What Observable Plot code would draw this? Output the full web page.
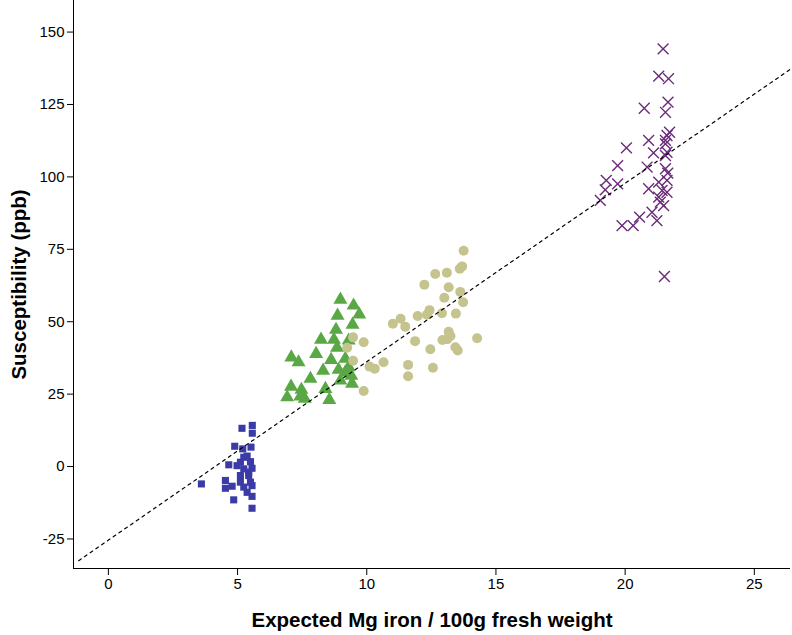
<!DOCTYPE html>
<html>
<head>
<meta charset="utf-8">
<script src="https://cdn.jsdelivr.net/npm/d3@7"></script>
<script src="https://cdn.jsdelivr.net/npm/@observablehq/plot@0.6"></script>
<style>
  html, body { margin: 0; padding: 0; background: #fff; }
  #chart svg { display: block; }
  #chart [aria-label="x-axis label"] text, #chart [aria-label="y-axis label"] text,
  #chart g[aria-label="x-axis label"], #chart g[aria-label="y-axis label"] { font-weight: bold; font-size: 20.5px; }
</style>
</head>
<body>
<div id="chart"></div>
<script>
// Blue squares
const blueX = [5.17, 5.57, 5.57, 4.89, 5.20, 5.52, 4.66, 5.11, 5.50, 5.24, 5.56, 5.11, 5.43, 4.53, 4.53, 4.79, 5.11, 5.50, 5.24, 5.56, 5.37, 5.56, 4.85, 5.56, 3.60, 4.98, 5.37, 5.24, 5.43];
const blueY = [13.2, 14.2, 11.5, 7.0, 6.1, 6.7, 0.6, 1.5, 1.7, -0.8, -0.6, -3.1, -3.1, -4.8, -7.5, -6.8, -5.4, -5.4, -7.1, -6.6, -8.9, -10.3, -11.5, -14.4, -6.0, 0.3, 3.6, 3.2, -1.9];
// Green triangles
const greenX = [8.98, 9.49, 9.71, 8.87, 9.45, 8.81, 8.23, 8.73, 9.30, 8.85, 7.08, 7.36, 8.04, 8.62, 9.17, 9.30, 8.31, 8.91, 7.82, 9.40, 9.43, 7.07, 7.47, 6.92, 7.43, 7.60, 8.40, 8.55, 9.17, 8.98];
const greenY = [57.6, 55.6, 52.5, 52.1, 49.0, 47.2, 43.8, 43.8, 43.5, 41.0, 37.7, 36.0, 38.9, 36.8, 37.2, 34.3, 33.1, 33.4, 30.3, 31.4, 28.6, 27.6, 26.5, 23.9, 24.2, 23.4, 26.8, 23.0, 32.5, 29.7];
// Tan circles
const tanX = [9.47, 9.88, 9.24, 9.47, 10.11, 10.31, 10.65, 9.88, 11.01, 11.31, 11.49, 11.87, 11.97, 11.60, 11.60, 13.75, 13.69, 13.60, 12.65, 13.10, 12.23, 13.17, 13.62, 13.00, 13.73, 12.43, 12.33, 12.91, 13.45, 13.17, 12.93, 13.12, 13.24, 13.43, 13.52, 14.27, 12.46, 12.56];
const tanY = [44.6, 42.9, 41.0, 36.5, 34.5, 33.8, 36.0, 26.1, 49.3, 51.0, 48.3, 43.3, 52.0, 35.1, 31.2, 74.5, 69.1, 68.3, 66.5, 66.9, 62.8, 61.9, 60.3, 58.3, 56.7, 54.0, 52.4, 52.9, 52.8, 46.5, 43.7, 44.0, 45.1, 41.2, 40.1, 44.3, 40.5, 34.1];
// Purple crosses
const purpleX = [21.47, 21.30, 21.68, 21.66, 21.56, 20.74, 21.72, 21.62, 21.56, 20.91, 20.05, 21.10, 21.56, 21.62, 21.56, 19.71, 20.85, 21.56, 21.65, 19.27, 19.71, 19.23, 21.30, 21.62, 20.91, 21.43, 21.62, 21.30, 21.36, 21.49, 19.04, 21.04, 20.56, 21.23, 19.88, 20.31, 21.52];
const purpleY = [144.2, 134.8, 133.9, 125.8, 122.3, 123.7, 115.4, 114.3, 112.6, 112.6, 110.0, 108.3, 111.4, 108.5, 107.4, 103.9, 103.4, 102.8, 101.3, 98.8, 97.6, 95.5, 98.2, 98.8, 95.9, 95.3, 94.7, 93.0, 91.3, 90.1, 91.9, 87.8, 86.1, 84.9, 83.2, 83.2, 65.6];
// Fit line end points
const fitX = [-1.15, 26.4];
const fitY = [-32.5, 137.2];
// Axis ticks
const xTicks = [0, 5, 10, 15, 20, 25];
const yTicks = [-25, 0, 25, 50, 75, 100, 125, 150];
const xDomain = [-1.35, 26.4];
const yDomain = [-35.2, 160.9];

const pts = (xs, ys) => xs.map((x, i) => ({x, y: ys[i]}));
const blue = pts(blueX, blueY), green = pts(greenX, greenY), tan = pts(tanX, tanY), purple = pts(purpleX, purpleY), fit = pts(fitX, fitY);

const chart = Plot.plot({
  width: 792,
  height: 635,
  marginLeft: 73,
  marginBottom: 67,
  marginTop: 0,
  marginRight: 2,
  style: {fontFamily: "'Liberation Sans', Arial, sans-serif", fontSize: "15px", color: "#000", background: "#fff"},
  x: {domain: xDomain},
  y: {domain: yDomain},
  marks: [
    Plot.axisX({ticks: xTicks, tickSize: 7, tickPadding: 3, tickFormat: d => String(d), label: "Expected Mg iron / 100g fresh weight", labelAnchor: "center", labelArrow: "none", labelOffset: 58}),
    Plot.axisY({ticks: yTicks, tickSize: 6, tickPadding: 3, tickFormat: d => String(d), label: "Susceptibility (ppb)", labelAnchor: "center", labelArrow: "none", labelOffset: 62}),
    Plot.ruleX([xDomain[0]], {stroke: "#000", strokeWidth: 1}),
    Plot.ruleY([yDomain[0]], {stroke: "#000", strokeWidth: 1}),
    Plot.dot(blue, {x: "x", y: "y", symbol: "square", r: 4, fill: "#3b3ba8", stroke: "none"}),
    Plot.dot(green, {x: "x", y: "y", symbol: "triangle", r: 5.2, fill: "#5aa845", stroke: "none"}),
    Plot.dot(tan, {x: "x", y: "y", symbol: "circle", r: 5, fill: "#c5c48f", stroke: "none"}),
    Plot.dot(purple, {x: "x", y: "y", symbol: "times", r: 5, stroke: "#6a2c79", strokeWidth: 1.4, fill: "none"}),
    Plot.line(fit, {x: "x", y: "y", stroke: "#000", strokeWidth: 1.2, strokeDasharray: "3,4"})
  ]
});
document.getElementById("chart").appendChild(chart);
</script>
</body>
</html>
